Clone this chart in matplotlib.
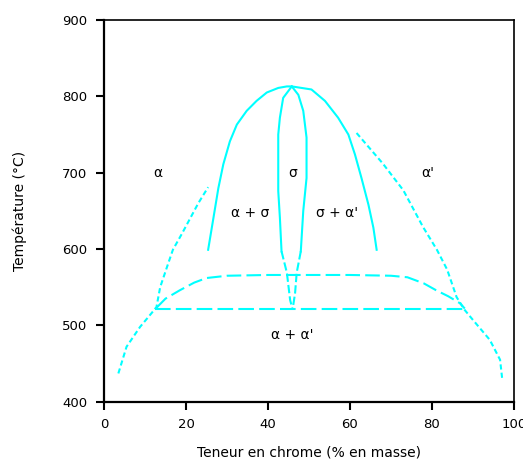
import matplotlib
matplotlib.use("Agg")
import matplotlib.pyplot as plt

# ---- data ----
# outer dome (alpha + sigma / sigma + alpha' boundary)
dome_x = [25.4, 26.7, 27.9, 29.1, 30.7, 32.4, 34.8, 37.2, 39.7, 42.5, 44.6, 45.8,
          50.6, 53.9, 57.1, 59.6, 61.2, 62.8, 64.5, 65.7, 66.5]
dome_t = [599, 641, 680, 711, 741, 763, 781, 794, 805, 811, 813, 813,
          809, 794, 772, 750, 724, 693, 658, 628, 599]

# sigma lens, solid upper part
sig_left_x = [45.8, 43.7, 42.9, 42.5, 42.5, 42.9, 43.3]
sig_left_t = [813, 798, 772, 750, 676, 641, 597]
sig_right_x = [45.8, 47.4, 48.6, 49.4, 49.4, 48.6, 48.0]
sig_right_t = [813, 802, 781, 746, 693, 650, 597]
# sigma lens, dashed lower part
sig_low_left_x = [43.3, 44.6, 45.4, 46.0]
sig_low_left_t = [597, 569, 533, 521]
sig_low_right_x = [48.0, 47.0, 46.6, 46.0]
sig_low_right_t = [597, 569, 542, 521]

# horizontal line
hline_x = [12.4, 88.0]
hline_t = [521, 521]

# upper miscibility-gap line
gap_x = [12.8, 15.0, 18.5, 22.0, 25.0, 30.0, 40.0, 50.0, 60.0, 70.0, 74.0, 78.0, 81.0, 84.0, 86.8, 88.0]
gap_t = [523, 535, 546, 556, 562, 565, 566, 566, 566, 565, 563, 555, 546, 538, 529, 522]

# left alpha boundary
left_x = [3.5, 5.5, 8.8, 11.6, 12.8, 13.7, 15.4, 16.8, 19.0, 21.0, 23.0, 25.4]
left_t = [437, 472, 498, 516, 524, 550, 577, 599, 620, 640, 660, 681]

# right alpha' boundary
right_x = [61.6, 68.0, 73.0, 77.8, 81.2, 83.7, 86.0, 88.0, 90.0, 94.1, 96.6, 97.1]
right_t = [752, 712, 677, 629, 599, 573, 537, 520, 507, 481, 455, 431]

# phase labels
label_text = ["α", "σ", "α'", "α + σ", "σ + α'", "α + α'"]
label_x = [13.2, 46.0, 79.0, 35.6, 56.8, 45.9]
label_t = [700, 700, 700, 647, 647, 487]

x_ticks = [0, 20, 40, 60, 80, 100]
y_ticks = [400, 500, 600, 700, 800, 900]

# ---- figure ----
W, H = 523, 462
fig = plt.figure(figsize=(W / 100, H / 100), dpi=100)
ax = fig.add_axes([104 / W, 1 - 401.7 / H, 410 / W, 381.7 / H])

c = "#00ffff"
lw = 1.5
ax.plot(dome_x, dome_t, color=c, lw=lw)
ax.plot(sig_left_x, sig_left_t, color=c, lw=lw)
ax.plot(sig_right_x, sig_right_t, color=c, lw=lw)
ax.plot(sig_low_left_x, sig_low_left_t, color=c, lw=lw, dashes=(4, 1.5))
ax.plot(sig_low_right_x, sig_low_right_t, color=c, lw=lw, dashes=(4, 1.5))
ax.plot(hline_x, hline_t, color=c, lw=lw, dashes=(7.5, 2.5))
ax.plot(gap_x, gap_t, color=c, lw=lw, dashes=(7, 2.5))
ax.plot(left_x, left_t, color=c, lw=lw, dashes=(2.5, 1.5))
ax.plot(right_x, right_t, color=c, lw=lw, dashes=(2.5, 1.5))

for s, x, t in zip(label_text, label_x, label_t):
    ax.text(x, t, s, ha="center", va="center", fontsize=10, color="black")

ax.set_xlim(0, 100)
ax.set_ylim(400, 900)
ax.set_xticks(x_ticks)
ax.set_yticks(y_ticks)
ax.tick_params(direction="out", length=6, width=1.5, labelsize=9.5, pad=6)
for side in ["left", "bottom"]:
    ax.spines[side].set_linewidth(1.6)
for side in ["top", "right"]:
    ax.spines[side].set_linewidth(1.2)

ax.set_xlabel("Teneur en chrome (% en masse)", fontsize=10, labelpad=10)
ax.set_ylabel("Température (°C)", fontsize=10, labelpad=25)

fig.savefig("out.png", dpi=100)
